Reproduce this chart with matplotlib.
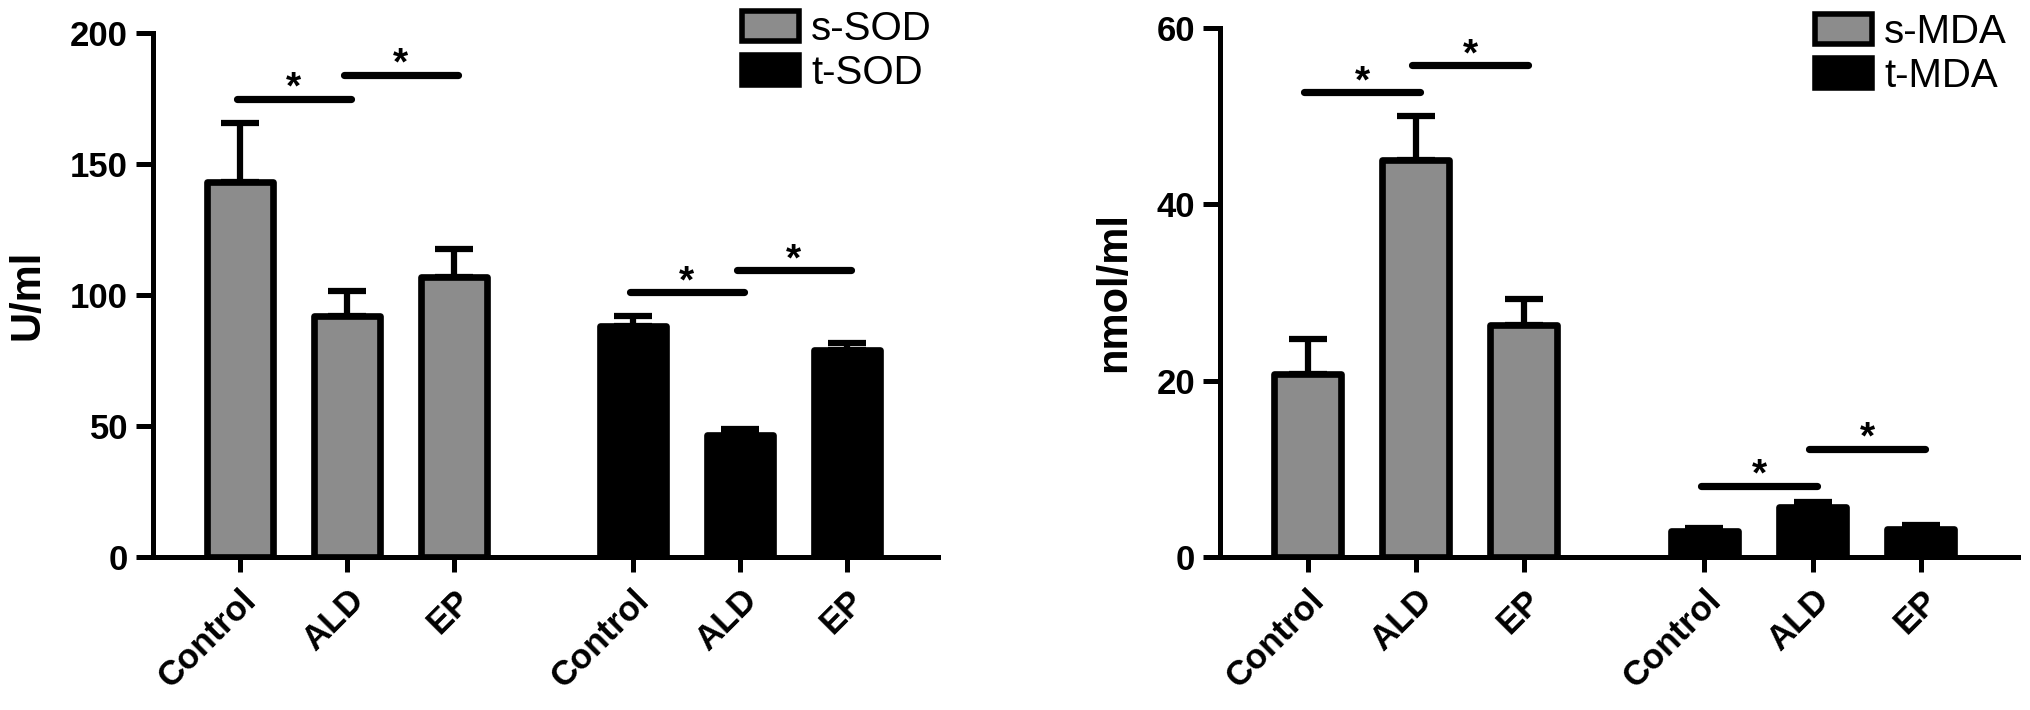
import matplotlib.pyplot as plt
from matplotlib.patches import Patch

plt.rcParams["font.family"] = ["Liberation Sans", "DejaVu Sans"]

groups = ["Control", "ALD", "EP"]

# SOD panel (U/ml)
sod_serum = [143, 92, 107]
sod_serum_err = [22.5, 9.5, 10.5]
sod_tissue = [88, 46.5, 79]
sod_tissue_err = [4, 2.5, 2.8]
sod_labels = ["s-SOD", "t-SOD"]
sod_ticks = [0, 50, 100, 150, 200]
# significance: (bar index from, bar index to, height)
sod_sig = [(0, 1, 175), (1, 2, 184), (3, 4, 101), (4, 5, 109.5)]

# MDA panel (nmol/ml)
mda_serum = [20.7, 45, 26.3]
mda_serum_err = [4, 5, 3]
mda_tissue = [3.0, 5.7, 3.2]
mda_tissue_err = [0.3, 0.5, 0.4]
mda_labels = ["s-MDA", "t-MDA"]
mda_ticks = [0, 20, 40, 60]
mda_sig = [(0, 1, 52.7), (1, 2, 55.8), (3, 4, 8.1), (4, 5, 12.3)]

GRAY = "#8c8c8c"
GAP = 3.67
POS = [0, 1, 2, GAP, GAP + 1, GAP + 2]
W = 0.62
LW = 4.8


def draw_panel(ax, serum, serum_err, tissue, tissue_err, ticks, sig,
               ylabel, legend_labels, legend_xy, fig, xmax):
    xs = POS[:3]
    xt = POS[3:]

    ax.bar(xs, serum, width=W, color=GRAY, edgecolor="black",
           linewidth=LW, joinstyle="round", zorder=2)
    ax.bar(xt, tissue, width=W, color="black", edgecolor="black",
           linewidth=LW, joinstyle="round", zorder=2)

    vals = list(serum) + list(tissue)
    errs = list(serum_err) + list(tissue_err)
    ax.errorbar(POS, vals, yerr=[[0] * 6, errs], fmt="none",
                ecolor="black", elinewidth=4.5, capsize=14,
                capthick=4.5, zorder=1)

    for i, j, h in sig:
        x0 = POS[i] - 0.03
        x1 = POS[j] + 0.04
        ax.plot([x0, x1], [h, h], color="black", lw=5.2,
                solid_capstyle="round", zorder=3)
        ax.annotate("*", xy=((x0 + x1) / 2, h), xytext=(0, 0),
                    textcoords="offset points", ha="center",
                    va="baseline", fontsize=28, fontweight="bold")

    ax.set_xlim(-0.81, xmax)
    ax.set_ylim(ticks[0], ticks[-1])
    ax.set_yticks(ticks)
    ax.set_xticks(POS)
    ax.set_xticklabels(groups * 2, rotation=45, ha="right", va="top",
                       rotation_mode="anchor", fontsize=25,
                       fontweight="bold")
    for lab in ax.get_yticklabels():
        lab.set_fontweight("bold")
        lab.set_fontsize(25)

    for side in ["top", "right"]:
        ax.spines[side].set_visible(False)
    for side in ["left", "bottom"]:
        ax.spines[side].set_linewidth(3.6)

    ax.tick_params(axis="y", length=12, width=3.6, pad=6)
    ax.tick_params(axis="x", length=11, width=3.6, pad=8)

    ax.set_ylabel(ylabel, fontsize=30, fontweight="bold", labelpad=16)

    handles = [
        Patch(facecolor=GRAY, edgecolor="black", linewidth=4),
        Patch(facecolor="black", edgecolor="black", linewidth=4),
    ]
    ax.legend(handles, legend_labels, loc="upper left",
              bbox_to_anchor=legend_xy, bbox_transform=fig.transFigure,
              frameon=False, fontsize=29, handlelength=1.42,
              handleheight=0.75, handletextpad=0.3, labelspacing=0.15,
              borderpad=0, borderaxespad=0)


fig = plt.figure(figsize=(20.31, 7.10), dpi=100)

ax1 = fig.add_axes([153 / 2031, 1 - 557 / 710, 785 / 2031, 524 / 710])
ax2 = fig.add_axes([1220 / 2031, 1 - 557 / 710, 798 / 2031, 529 / 710])

draw_panel(ax1, sod_serum, sod_serum_err, sod_tissue, sod_tissue_err,
           sod_ticks, sod_sig, "U/ml", sod_labels,
           (742 / 2031, 1 - 10 / 710), fig, 6.52)
draw_panel(ax2, mda_serum, mda_serum_err, mda_tissue, mda_tissue_err,
           mda_ticks, mda_sig, "nmol/ml", mda_labels,
           (1815 / 2031, 1 - 13 / 710), fig, 6.57)

fig.savefig("out.png", dpi=100)
